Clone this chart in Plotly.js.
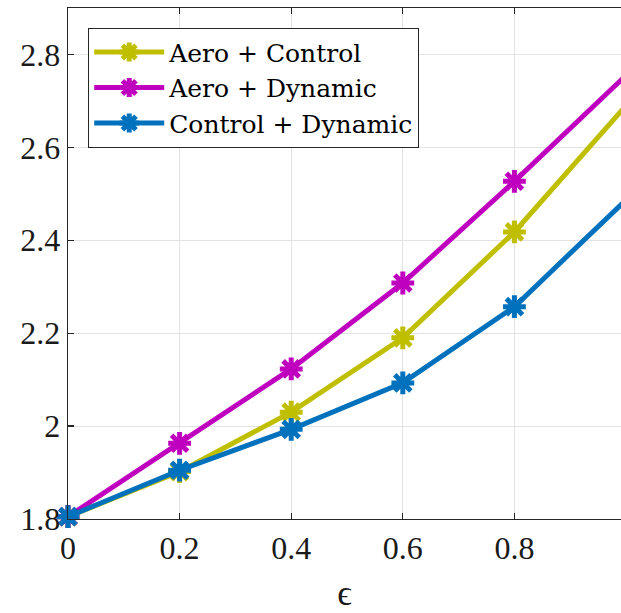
<!DOCTYPE html>
<html>
<head>
<meta charset="utf-8">
<script src="https://cdn.plot.ly/plotly-3.0.1.min.js"></script>
<style>html,body{margin:0;padding:0;background:#fff;}</style>
</head>
<body>
<div id="chart" style="width:621px;height:613px;"></div>
<script>
const epsilon = [0, 0.2, 0.4, 0.6, 0.8, 1.0];
const aeroControl = [1.805, 1.902, 2.03, 2.19, 2.418, 2.69];
const aeroDynamic = [1.805, 1.963, 2.123, 2.308, 2.527, 2.755];
const controlDynamic = [1.805, 1.905, 1.993, 2.093, 2.257, 2.487];
const seriesNames = ['Aero + Control', 'Aero + Dynamic', 'Control + Dynamic'];
const colors = ['#BFBF00', '#BF00BF', '#0072BD'];
const xTickVals = [0, 0.2, 0.4, 0.6, 0.8, 1.0];
const xTickText = ['0', '0.2', '0.4', '0.6', '0.8', '1'];
const yTickVals = [1.8, 2.0, 2.2, 2.4, 2.6, 2.8];
const yTickText = ['1.8', '2', '2.2', '2.4', '2.6', '2.8'];

const seriesY = [aeroControl, aeroDynamic, controlDynamic];
const traces = seriesY.map((ys, i) => ({
  x: epsilon, y: ys, name: seriesNames[i], type: 'scatter', mode: 'lines+markers',
  cliponaxis: false,
  line: {color: colors[i], width: 5},
  marker: {symbol: 'asterisk-open', size: 19, color: colors[i], line: {color: colors[i], width: 5}}
}));

const font = 'Liberation Serif, Times New Roman, serif';
const legendFont = 'DejaVu Serif, Liberation Serif, serif';
const layout = {
  width: 621, height: 613,
  margin: {l: 68, r: 0, t: 8, b: 94},
  paper_bgcolor: '#fff', plot_bgcolor: '#fff',
  font: {family: font, color: '#1a1a1a'},
  showlegend: true,
  legend: {x: 0.036, y: 0.961, xanchor: 'left', yanchor: 'top',
    bgcolor: '#fff', bordercolor: '#262626', borderwidth: 1.3,
    itemwidth: 70,
    font: {family: legendFont, size: 25, color: '#000'}, tracegroupgap: 0},
  xaxis: {range: [0, 0.991], tickvals: xTickVals, ticktext: xTickText,
    showgrid: true, gridcolor: '#e3e3e3', gridwidth: 1,
    showline: true, linecolor: '#262626', linewidth: 1.3, mirror: 'ticks',
    ticks: 'inside', ticklen: 6, tickcolor: '#262626', tickwidth: 1.3,
    tickfont: {family: font, size: 32, color: '#1a1a1a'}, zeroline: false,
    title: {text: 'ϵ', font: {family: font, size: 36, color: '#1a1a1a'}, standoff: 18}},
  yaxis: {range: [1.8, 2.9], tickvals: yTickVals, ticktext: yTickText,
    showgrid: true, gridcolor: '#e3e3e3', gridwidth: 1,
    showline: true, linecolor: '#262626', linewidth: 1.3,
    ticks: 'inside', ticklen: 6, tickcolor: '#262626', tickwidth: 1.3,
    tickfont: {family: font, size: 32, color: '#1a1a1a'}, zeroline: false}
};
Plotly.newPlot('chart', traces, layout, {displayModeBar: false, staticPlot: true});
</script>
</body>
</html>
